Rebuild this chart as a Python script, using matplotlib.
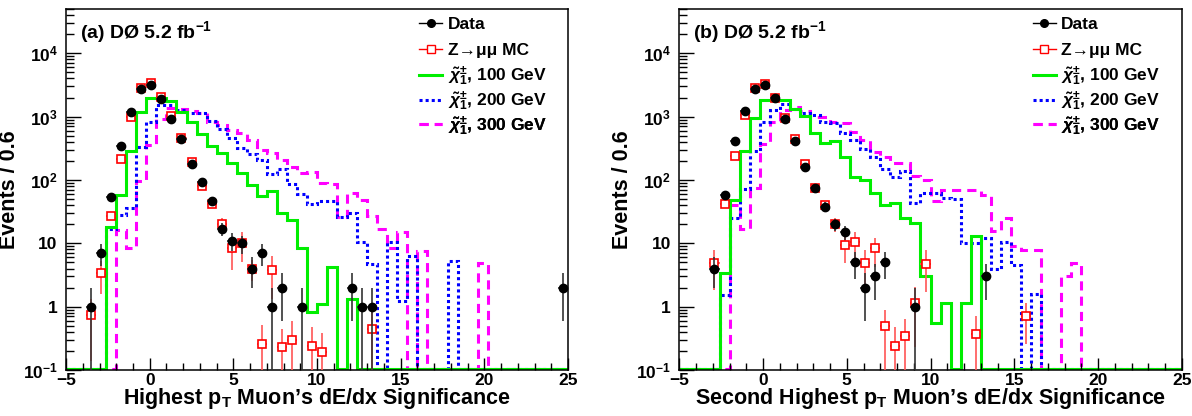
import numpy as np
import matplotlib
matplotlib.use("Agg")
import matplotlib.pyplot as plt
from matplotlib.lines import Line2D
from matplotlib.ticker import LogLocator, FuncFormatter, MultipleLocator, NullFormatter

plt.rcParams['font.family'] = ['Liberation Sans', 'DejaVu Sans']
plt.rcParams['font.weight'] = 'bold'
plt.rcParams['mathtext.fontset'] = 'custom'
plt.rcParams['mathtext.rm'] = 'Liberation Sans:bold'
plt.rcParams['mathtext.it'] = 'Liberation Sans:bold:italic'
plt.rcParams['mathtext.bf'] = 'Liberation Sans:bold'

# binning: 50 bins of 0.6 from -5 to 25
edges = np.linspace(-5, 25, 51)

# ---------------- panel (a): highest pT muon ----------------
data_x_a = [-3.5, -2.9, -2.3, -1.7, -1.1, -0.5, 0.1, 0.7, 1.3, 1.9, 2.5, 3.1, 3.7,
            4.3, 4.9, 5.5, 6.1, 6.7, 7.3, 7.9, 9.1, 12.1, 12.7, 13.3, 24.7]
data_y_a = [1, 7, 53, 349, 1190, 2720, 3100, 1905, 933, 451, 180, 94, 47,
            17, 11, 10, 4, 7, 1, 2, 1, 2, 1, 1, 2]

mc_x_a = [-3.5, -2.9, -2.3, -1.7, -1.1, -0.5, 0.1, 0.7, 1.3, 1.9, 2.5, 3.1, 3.7,
          4.3, 4.9, 5.5, 6.1, 6.7, 7.3, 7.9, 8.5, 9.7, 10.3, 13.3]
mc_y_a = [0.74, 3.4, 27, 213, 1000, 2820, 3380, 2040, 1030, 457, 195, 81, 41,
          20, 8.3, 10, 4, 0.26, 3.8, 0.23, 0.30, 0.24, 0.19, 0.44]
mc_err_a = [0.6, 1.8, 4, 10, 20, 40, 45, 35, 22, 14, 9, 6, 5,
            5, 4.5, 5, 1.5, 0.25, 2.5, 0.22, 0.3, 0.23, 0.19, 0.4]

c100_a = [0, 0, 0, 0, 18, 58, 285, 1200, 2000, 1950, 1760, 1200, 810, 530, 340,
          265, 185, 130, 84, 56, 66, 30, 23, 8.5, 0.83, 1.1, 4.2, 0, 1.3, 0,
          0, 0, 0, 0, 0, 0, 0, 0, 0, 0, 0, 0, 0, 0, 0, 0, 0, 0, 0, 0]
c200_a = [0, 0, 0, 0, 17, 28, 36, 337, 837, 1500, 1500, 1280, 1135, 1120, 860,
          645, 460, 325, 255, 205, 126, 150, 87, 61, 41, 46, 46, 26, 30, 10.6,
          4.7, 0, 10.6, 1.25, 6.2, 0, 0, 0, 5.3, 0, 0, 0, 0, 0, 0, 0, 0, 0, 0, 0]
c300_a = [0, 0, 0, 0, 0, 16, 8.4, 97, 360, 910, 1360, 1330, 1205, 1150, 837,
          740, 620, 560, 430, 300, 265, 205, 160, 130, 132, 89, 86, 26, 62, 48,
          27, 17, 8.5, 15, 0, 7.5, 0, 0, 0, 0, 0, 4.9, 0, 0, 0, 0, 0, 0, 0, 0]

# ---------------- panel (b): second highest pT muon ----------------
data_x_b = [-2.9, -2.3, -1.7, -1.1, -0.5, 0.1, 0.7, 1.3, 1.9, 2.5, 3.1, 3.7,
            4.3, 4.9, 5.5, 6.1, 6.7, 7.3, 9.1, 13.3]
data_y_b = [4, 58, 415, 1236, 2750, 3180, 1960, 910, 415, 163, 74, 38,
            20, 15, 5, 2, 3, 5, 1, 3]

mc_x_b = [-2.9, -2.3, -1.7, -1.1, -0.5, 0.1, 0.7, 1.3, 1.9, 2.5, 3.1, 3.7,
          4.3, 4.9, 5.5, 6.1, 6.7, 7.3, 7.9, 8.5, 9.1, 9.7, 12.7, 15.7]
mc_y_b = [4.8, 41, 243, 1066, 2880, 3250, 1995, 968, 446, 178, 74, 40,
          20, 9.4, 10.4, 4.8, 8.3, 0.5, 0.24, 0.34, 1.13, 4.7, 0.37, 0.70]
mc_err_b = [3, 5, 10, 22, 40, 45, 35, 22, 14, 9, 6, 5,
            5, 4.5, 4.5, 3, 4, 0.4, 0.23, 0.3, 0.9, 3, 0.33, 0.44]

c100_b = [0, 0, 0, 0, 3.4, 48, 290, 950, 1800, 1850, 1850, 1310, 1030, 550, 390,
          405, 230, 111, 100, 63, 40, 43, 25, 21, 3.05, 0.55, 1.13, 0, 1.13, 13,
          0, 0, 0, 0, 0, 0, 0, 0, 0, 0, 0, 0, 0, 0, 0, 0, 0, 0, 0, 0]
c200_b = [0, 0, 0, 0, 1.5, 25, 72, 291, 837, 1280, 1575, 1313, 1160, 1066, 837,
          807, 548, 430, 310, 229, 148, 113, 136, 43, 62, 62, 52, 50, 10, 10,
          12, 4.0, 10.6, 4.6, 0, 1.6, 0, 0, 0, 0, 0, 0, 0, 0, 0, 0, 0, 0, 0, 0]
c300_b = [0, 0, 0, 0, 0, 40, 17, 74, 372, 837, 1280, 1393, 1205, 1000, 1000,
          837, 807, 580, 420, 281, 229, 184, 184, 115, 100, 47, 70, 70, 70, 70,
          58, 15.5, 25, 9.2, 7.9, 7.9, 0, 0, 3.1, 4.8, 0, 0, 0, 0, 0, 0, 0, 0, 0, 0]

legend_labels = ["Data", "Z\u2192\u03bc\u03bc MC",
                 r"$\tilde{\chi}_1^{\pm}$, 100 GeV",
                 r"$\tilde{\chi}_1^{\pm}$, 200 GeV",
                 r"$\tilde{\chi}_1^{\pm}$, 300 GeV"]

YMIN, YMAX = 0.1, 5e4


def log_label(v, pos):
    if v == 1:
        return "1"
    if v == 10:
        return "10"
    return r"10$^{%d}$" % int(round(np.log10(v)))


def draw_panel(ax, dx, dy, mx, my, merr, h100, h200, h300, tag, xlabel):
    # empty bins sit on the bottom of the frame, as in the original
    for h, col, ls in [(h300, '#ff00ff', (0, (3, 2))),
                       (h200, '#0000ff', (0, (1, 1))),
                       (h100, '#00ee00', '-')]:
        h = np.asarray(h, dtype=float)
        ax.stairs(np.where(h > 0, h, YMIN * 1.035), edges, baseline=None,
                  color=col, lw=2.2, linestyle=ls)

    mx = np.asarray(mx); my = np.asarray(my); merr = np.asarray(merr)
    ax.errorbar(mx, my, yerr=[np.minimum(merr, my - 1e-3), merr], xerr=0.3,
                fmt='s', ms=6, mfc='white', mec='red', mew=1.2,
                ecolor='#ff5555', elinewidth=1.2, capsize=0, zorder=4)

    dx = np.asarray(dx); dy = np.asarray(dy, dtype=float)
    derr = np.sqrt(dy)
    ax.errorbar(dx, dy, yerr=[np.minimum(derr, dy - 1e-3), derr], xerr=0.3,
                fmt='o', ms=6, color='black', ecolor='#333333',
                elinewidth=1.2, capsize=0, zorder=5)

    ax.set_yscale('log')
    ax.set_xlim(-5, 25)
    ax.set_ylim(YMIN, YMAX)
    ax.xaxis.set_major_locator(MultipleLocator(5))
    ax.xaxis.set_minor_locator(MultipleLocator(1))
    ax.yaxis.set_major_locator(LogLocator(base=10, numticks=10))
    ax.yaxis.set_minor_locator(LogLocator(base=10, subs=np.arange(2, 10), numticks=20))
    ax.yaxis.set_major_formatter(FuncFormatter(log_label))
    ax.yaxis.set_minor_formatter(NullFormatter())
    ax.tick_params(axis='both', which='both', direction='in', top=False, right=False,
                   labelsize=12.5, width=1)
    ax.tick_params(axis='y', which='major', length=11, pad=6)
    ax.tick_params(axis='y', which='minor', length=5.5)
    ax.tick_params(axis='x', which='major', length=9, pad=2)
    ax.tick_params(axis='x', which='minor', length=5)
    for s in ax.spines.values():
        s.set_linewidth(1.1)

    ax.set_ylabel("Events / 0.6", fontsize=15.5, fontweight='bold', labelpad=2)
    ax.set_xlabel(xlabel, fontsize=15.5, fontweight='bold', labelpad=-1)
    ax.text(0.028, 0.935, tag + r" D$\mathbf{\O}$ 5.2 fb$^{-1}$", transform=ax.transAxes,
            fontsize=14, fontweight='bold', va='center', ha='left')

    handles = [
        Line2D([], [], color='black', marker='o', ms=5.5, lw=1),
        Line2D([], [], color='red', marker='s', ms=6, mfc='white', lw=1),
        Line2D([], [], color='#00ee00', lw=2.2),
        Line2D([], [], color='#0000ff', lw=2.2, linestyle=(0, (1, 1))),
        Line2D([], [], color='#ff00ff', lw=2.2, linestyle=(0, (3, 2))),
    ]
    # one legend per row keeps the rows evenly spaced
    row_y = [0.956, 0.884, 0.814, 0.745, 0.676]
    for hnd, lab, yy in zip(handles, legend_labels, row_y):
        leg = ax.legend([hnd], [lab], loc='center left', bbox_to_anchor=(0.703, yy),
                        frameon=False, fontsize=12.5, handlelength=1.35,
                        handletextpad=0.3, borderaxespad=0, borderpad=0)
        ax.add_artist(leg)


fig = plt.figure(figsize=(11.92, 4.16), dpi=100)
ax_a = fig.add_axes([0.0554, 0.1106, 0.4211, 0.8678])
ax_b = fig.add_axes([0.5699, 0.1106, 0.4215, 0.8678])

draw_panel(ax_a, data_x_a, data_y_a, mc_x_a, mc_y_a, mc_err_a,
           c100_a, c200_a, c300_a, "(a)",
           r"Highest p$_{\mathbf{T}}$ Muon’s dE/dx Significance")
draw_panel(ax_b, data_x_b, data_y_b, mc_x_b, mc_y_b, mc_err_b,
           c100_b, c200_b, c300_b, "(b)",
           r"Second Highest p$_{\mathbf{T}}$ Muon’s dE/dx Significance")

fig.savefig("out.png", dpi=100)
